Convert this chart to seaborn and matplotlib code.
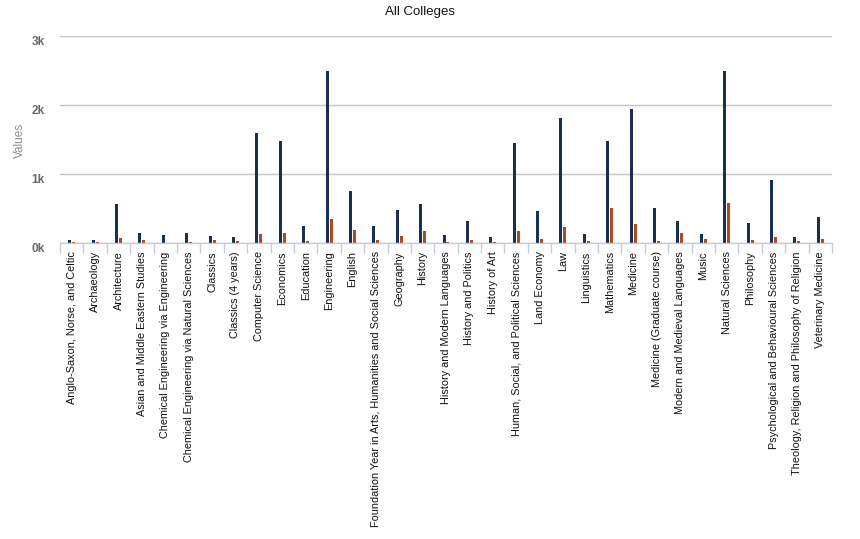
import matplotlib
matplotlib.use("Agg")
import matplotlib.pyplot as plt
import seaborn as sns
import pandas as pd
import numpy as np
from matplotlib.ticker import FixedLocator, FuncFormatter

categories = [
    "Anglo-Saxon, Norse, and Celtic", "Archaeology", "Architecture",
    "Asian and Middle Eastern Studies", "Chemical Engineering via Engineering",
    "Chemical Engineering via Natural Sciences", "Classics", "Classics (4 years)",
    "Computer Science", "Economics", "Education", "Engineering", "English",
    "Foundation Year in Arts, Humanities and Social Sciences", "Geography", "History",
    "History and Modern Languages", "History and Politics", "History of Art",
    "Human, Social, and Political Sciences", "Land Economy", "Law", "Linguistics",
    "Mathematics", "Medicine", "Medicine (Graduate course)",
    "Modern and Medieval Languages", "Music", "Natural Sciences", "Philosophy",
    "Psychological and Behavioural Sciences",
    "Theology, Religion and Philosophy of Religion", "Veterinary Medicine",
]
series_a = [48, 48, 570, 150, 120, 150, 106, 92, 1599, 1483, 251, 2497, 758,
            251, 483, 570, 120, 323, 92, 1454, 468, 1816, 135, 1483, 1946, 512,
            323, 135, 2497, 294, 917, 92, 381]
series_b = [20, 20, 67, 48, 0, 20, 48, 34, 135, 150, 34, 352, 193,
            48, 106, 178, 20, 48, 20, 178, 62, 236, 34, 512, 280, 34,
            150, 62, 584, 48, 92, 34, 62]
series_names = ["Applications", "Acceptances"]
y_ticks = [0, 1000, 2000, 3000]

df = pd.DataFrame({
    "Course": categories * 2,
    "Series": [series_names[0]] * len(categories) + [series_names[1]] * len(categories),
    "Value": series_a + series_b,
})

plt.rcParams["font.family"] = ["Liberation Sans", "DejaVu Sans"]
fig = plt.figure(figsize=(8.6, 5.39), dpi=100)
ax = fig.add_axes([60 / 860, 1 - 243 / 539, 772 / 860, 207 / 539])

sns.barplot(data=df, x="Course", y="Value", hue="Series", order=categories,
            hue_order=series_names, palette=["#0f2d5f", "#c0420c"],
            width=0.34, gap=0.25, ax=ax, legend=False, linewidth=0,
            errorbar=None)

ax.set_ylim(0, 3000)
ax.set_xlim(-0.5, len(categories) - 0.5)
ax.yaxis.set_major_locator(FixedLocator(y_ticks))
ax.yaxis.set_major_formatter(FuncFormatter(lambda v, p: f"{int(v/1000)}k"))
ax.grid(axis="y", color="#c4c4c4", linewidth=1)
ax.set_axisbelow(True)
for s in ["top", "right", "left"]:
    ax.spines[s].set_visible(False)
ax.spines["bottom"].set_color("#c6ccd6")
ax.spines["bottom"].set_linewidth(1)

ax.tick_params(axis="y", length=0, labelsize=8.5, labelcolor="#6a6a6a", pad=11)
for t in ax.get_yticklabels():
    t.set_fontweight("semibold")
    t.set_va("top")
    t.set_y(t.get_position()[1])
ax.tick_params(axis="x", which="major", length=0, labelsize=7.8, pad=6,
               labelcolor="#111111")
ax.set_xticks(range(len(categories)))
ax.set_xticklabels(categories, rotation=90, ha="center", va="top")
ax.xaxis.set_minor_locator(FixedLocator(np.arange(-0.5, len(categories), 1)))
ax.tick_params(axis="x", which="minor", length=7, color="#c6ccd6", width=1)

ax.set_xlabel("")
ax.set_ylabel("")
fig.text(20 / 860, 1 - 140 / 539, "Values", rotation=90, ha="center",
         va="center", color="#8a8a8a", fontsize=8.5)
fig.text(420 / 860, 1 - 12 / 539, "All Colleges", ha="center", va="center",
         fontsize=9.5, color="#111111")

fig.savefig("out.png", dpi=100)
